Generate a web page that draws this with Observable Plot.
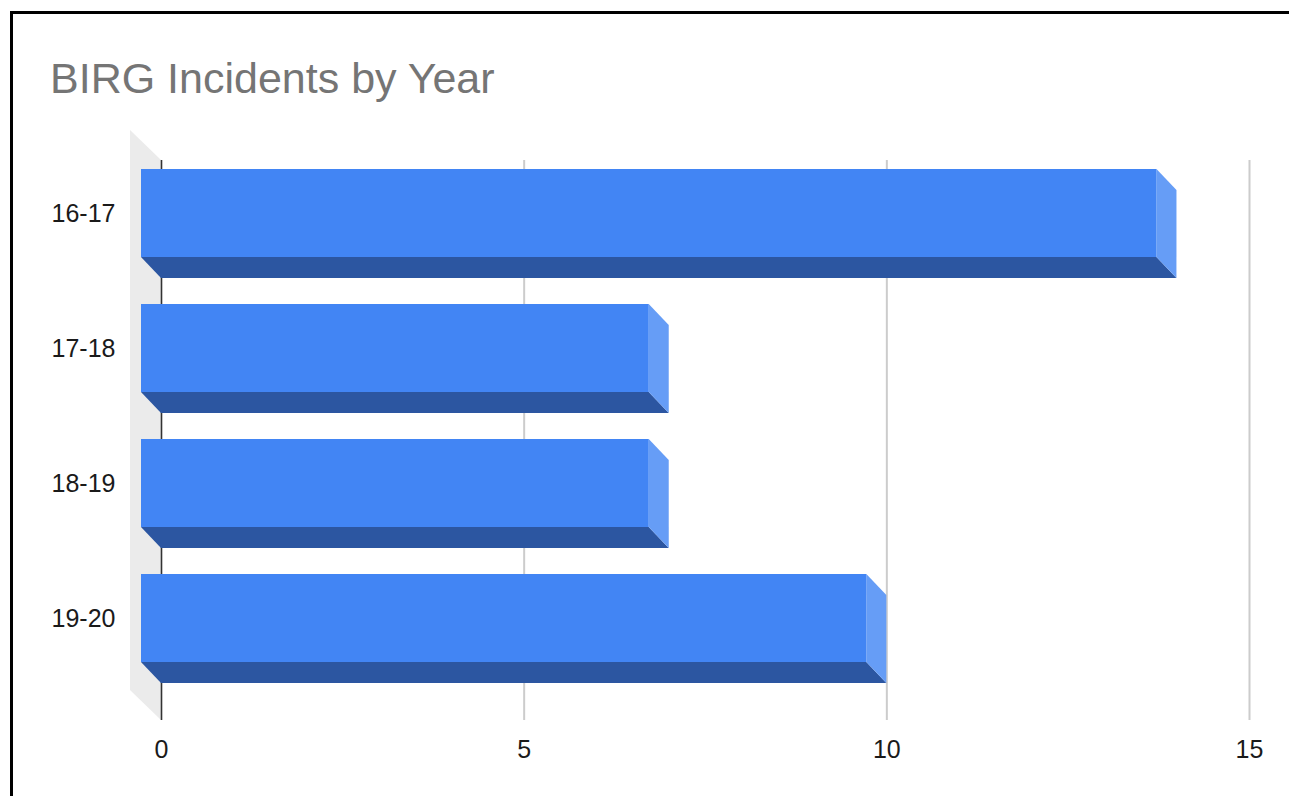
<!DOCTYPE html>
<html>
<head>
<meta charset="utf-8">
<script src="https://cdn.jsdelivr.net/npm/d3@7"></script>
<script src="https://cdn.jsdelivr.net/npm/@observablehq/plot@0.6"></script>
<style>
  html, body { margin: 0; padding: 0; background: #fff; width: 1289px; height: 796px; overflow: hidden; }
  #frame { position: absolute; left: 10px; top: 11px; width: 1300px; height: 900px; border-top: 3px solid #000; border-left: 3px solid #000; box-sizing: border-box; z-index: 2; pointer-events: none; }
  #title { position: absolute; left: 50px; top: 57px; font-family: "Liberation Sans", Arial, sans-serif; font-size: 43px; line-height: 43px; color: #757575; white-space: nowrap; }
  #chart { position: absolute; left: 0; top: 120px; }
</style>
</head>
<body>
<div id="frame"></div>
<div id="title">BIRG Incidents by Year</div>
<div id="chart"></div>
<script>
const years = ["16-17", "17-18", "18-19", "19-20"];
const incidents = [14, 7, 7, 10];
const xTicks = [0, 5, 10, 15];

const data = years.map((y, i) => ({year: y, value: incidents[i]}));

const DEPTH_X = 20, DEPTH_Y = 21;     // bar extrusion (px)
const WALL_X = 31, WALL_Y = 30;       // back wall extrusion (px)
const PAD_INNER = 0.3514, PAD_OUTER = 0.2395;

function bandwidthOf(s) {
  if (typeof s.bandwidth === "function") return s.bandwidth();
  if (typeof s.bandwidth === "number") return s.bandwidth;
  return 88;
}

const wallMark = (index, scales, values, dims) => {
  const x0 = scales.x(0);
  const top = dims.marginTop, bottom = dims.height - dims.marginBottom;
  const g = d3.create("svg:g");
  g.append("path")
    .attr("d", `M${x0 - WALL_X},${top - WALL_Y}L${x0},${top}L${x0},${bottom}L${x0 - WALL_X},${bottom - WALL_Y}Z`)
    .attr("fill", "#ebebeb");
  return g.node();
};

const barsMark = (index, scales, values, dims) => {
  const sx = scales.x, sy = scales.y;
  const bw = bandwidthOf(sy);
  const g = d3.create("svg:g");
  for (const d of data) {
    const x0 = sx(0), x1 = sx(d.value);
    const yb = sy(d.year);
    const fx0 = x0 - DEPTH_X, fx1 = x1 - DEPTH_X, fy0 = yb - DEPTH_Y, fy1 = yb - DEPTH_Y + bw;
    // bottom face
    g.append("path")
      .attr("d", `M${fx0},${fy1}L${fx1},${fy1}L${x1},${yb + bw}L${x0},${yb + bw}Z`)
      .attr("fill", "#2c56a1");
    // side face
    g.append("path")
      .attr("d", `M${fx1},${fy0}L${x1},${yb}L${x1},${yb + bw}L${fx1},${fy1}Z`)
      .attr("fill", "#669df6");
    // front face
    g.append("rect")
      .attr("x", fx0).attr("y", fy0)
      .attr("width", fx1 - fx0).attr("height", fy1 - fy0)
      .attr("fill", "#4285f4");
  }
  return g.node();
};

const plot = Plot.plot({
  width: 1289,
  height: 676,
  marginLeft: 161,
  marginRight: 40,
  marginTop: 40,
  marginBottom: 76,
  style: {background: "transparent", fontFamily: "\"Liberation Sans\", Arial, sans-serif", fontSize: "25px", color: "#222"},
  x: {domain: [0, 15], axis: null},
  y: {type: "band", domain: years, range: [36, 596], paddingInner: PAD_INNER, paddingOuter: PAD_OUTER, axis: null},
  marks: [
    wallMark,
    Plot.ruleX(xTicks.filter(t => t !== 0), {stroke: "#cccccc", strokeWidth: 2}),
    Plot.ruleX([0], {stroke: "#333333", strokeWidth: 1.6}),
    barsMark,
    Plot.text(years, {x: () => 0, y: d => d, textAnchor: "end", dx: -46, dy: -21, fill: "#1a1a1a", fontSize: 25}),
    Plot.text(xTicks, {x: d => d, frameAnchor: "bottom", dy: 37, fill: "#1a1a1a", fontSize: 25})
  ]
});
document.getElementById("chart").appendChild(plot);
</script>
</body>
</html>
